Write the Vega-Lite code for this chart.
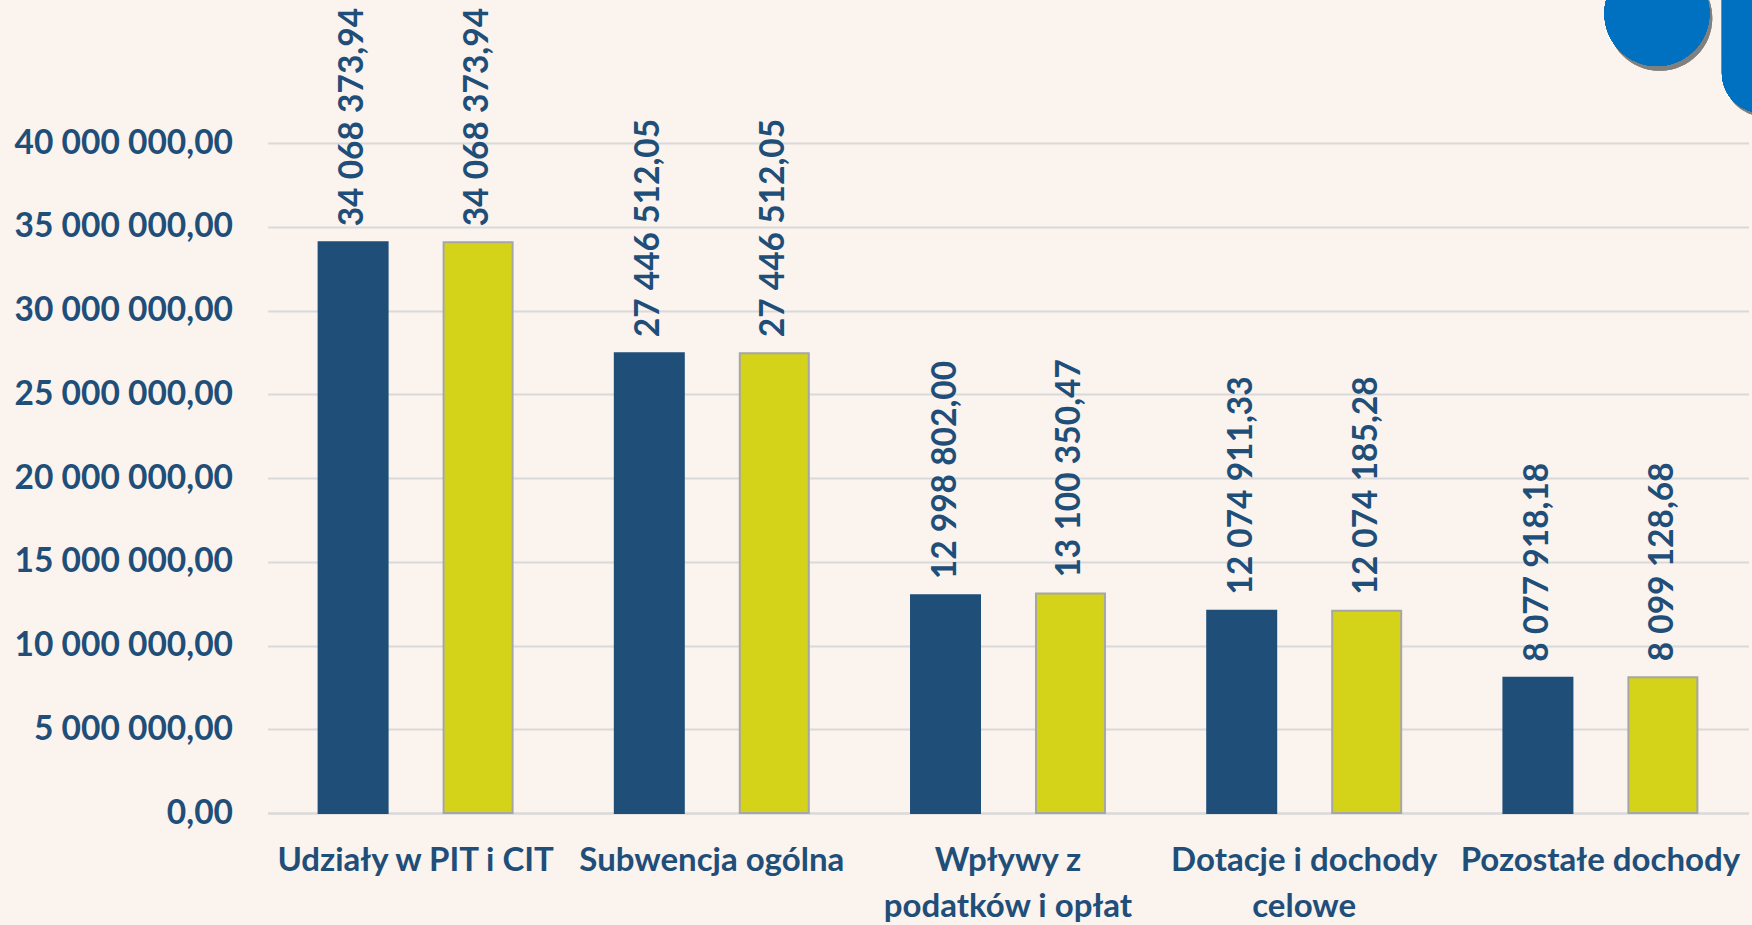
{
  "$schema": "https://vega.github.io/schema/vega-lite/v6.json",
  "autosize": {"type": "none"},
  "width": 1481,
  "height": 670,
  "padding": {"left": 267.5, "top": 143, "right": 3.5, "bottom": 112},
  "background": "#faf3ee",
  "config": {
    "view": {"stroke": null},
    "font": "Lato",
    "locale": {"number": {"decimal": ",", "thousands": " ", "grouping": [3], "currency": ["", " zł"]}}
  },
  "data": {
    "values": [
      {"kategoria": "Udziały w PIT i CIT", "seria": "Plan", "kwota": 34068373.94},
      {"kategoria": "Udziały w PIT i CIT", "seria": "Wykonanie", "kwota": 34068373.94},
      {"kategoria": "Subwencja ogólna", "seria": "Plan", "kwota": 27446512.05},
      {"kategoria": "Subwencja ogólna", "seria": "Wykonanie", "kwota": 27446512.05},
      {"kategoria": "Wpływy z podatków i opłat", "seria": "Plan", "kwota": 12998802.00},
      {"kategoria": "Wpływy z podatków i opłat", "seria": "Wykonanie", "kwota": 13100350.47},
      {"kategoria": "Dotacje i dochody celowe", "seria": "Plan", "kwota": 12074911.33},
      {"kategoria": "Dotacje i dochody celowe", "seria": "Wykonanie", "kwota": 12074185.28},
      {"kategoria": "Pozostałe dochody", "seria": "Plan", "kwota": 8077918.18},
      {"kategoria": "Pozostałe dochody", "seria": "Wykonanie", "kwota": 8099128.68}
    ]
  },
  "encoding": {
    "x": {
      "field": "kategoria", "type": "nominal", "sort": null,
      "scale": {"paddingInner": 0, "paddingOuter": 0},
      "axis": {
        "title": null, "labelAngle": 0, "ticks": false,
        "domain": true, "domainColor": "#d9d9d9", "domainWidth": 2,
        "labelFont": "Lato", "labelFontSize": 33, "labelFontWeight": "bold",
        "labelColor": "#1f4e79", "labelPadding": 31, "labelLineHeight": 46,
        "labelBaseline": "top", "labelLimit": 0, "labelOverlap": false,
        "labelExpr": "datum.value == 'Wpływy z podatków i opłat' ? ['Wpływy z', 'podatków i opłat'] : datum.value == 'Dotacje i dochody celowe' ? ['Dotacje i dochody', 'celowe'] : datum.value"
      }
    },
    "xOffset": {
      "field": "seria", "type": "nominal",
      "scale": {"paddingInner": 0.448, "paddingOuter": 0.409}
    },
    "y": {
      "field": "kwota", "type": "quantitative",
      "scale": {"domain": [0, 40000000], "nice": false},
      "axis": {
        "title": null, "values": [0, 5000000, 10000000, 15000000, 20000000, 25000000, 30000000, 35000000, 40000000],
        "format": ",.2f", "domain": false, "ticks": false,
        "grid": true, "gridColor": "#d9d9d9", "gridWidth": 2,
        "labelFont": "Lato", "labelFontSize": 33.5, "labelFontWeight": "bold",
        "labelColor": "#1f4e79", "labelPadding": 35, "labelLimit": 0
      }
    }
  },
  "layer": [
    {
      "mark": {"type": "bar", "strokeWidth": 2},
      "encoding": {
        "fill": {"field": "seria", "type": "nominal", "scale": {"domain": ["Plan", "Wykonanie"], "range": ["#1f4e79", "#d5d21a"]}, "legend": null},
        "stroke": {"field": "seria", "type": "nominal", "scale": {"domain": ["Plan", "Wykonanie"], "range": ["#1f4e79", "#a6a6a6"]}, "legend": null}
      }
    },
    {
      "mark": {"type": "text", "angle": 270, "align": "left", "baseline": "middle", "dx": 16, "font": "Lato", "fontSize": 33.5, "fontWeight": "bold", "color": "#1f4e79"},
      "encoding": {
        "text": {"field": "kwota", "type": "quantitative", "format": ",.2f"}
      }
    },
    {
      "mark": {"type": "point", "filled": true, "opacity": 0.3, "color": "#7f7f7f", "size": 11025, "strokeWidth": 0,
               "shape": "M-1.06,0.09 A1,1 0 1,0 0.94,0.09 A1,1 0 1,0 -1.06,0.09 Z M1.17,-1.5 H2.2 V1.96 H1.93 A0.76,0.76 0 0,1 1.17,1.2 Z"},
      "encoding": {
        "x": {"datum": "Pozostałe dochody"},
        "xOffset": {"datum": "Wykonanie"},
        "y": {"datum": 47730000}
      }
    },
    {
      "mark": {"type": "point", "filled": true, "opacity": 1, "color": "#0070c0", "size": 11025, "strokeWidth": 0,
               "shape": "M-1.114,0 A1,1 0 1,0 0.886,0 A1,1 0 1,0 -1.114,0 Z M1.124,-1.5 H2.2 V1.895 H1.884 A0.76,0.76 0 0,1 1.124,1.135 Z"},
      "encoding": {
        "x": {"datum": "Pozostałe dochody"},
        "xOffset": {"datum": "Wykonanie"},
        "y": {"datum": 47730000}
      }
    }
  ]
}
